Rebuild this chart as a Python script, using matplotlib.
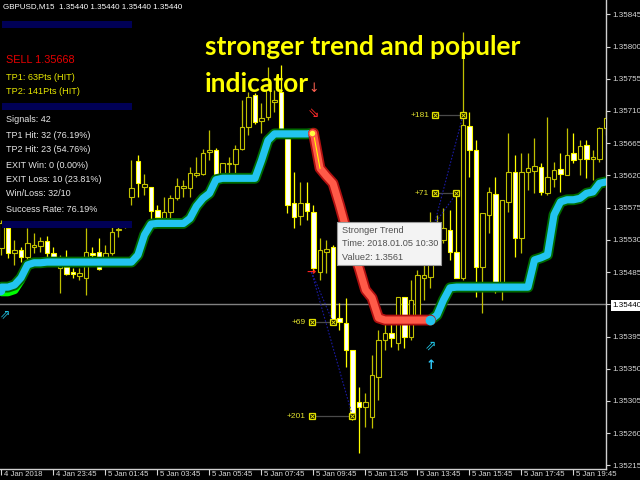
import numpy as np
import matplotlib.pyplot as plt
import matplotlib.transforms as mtrans
from matplotlib.patches import Rectangle

# GBPUSD M15, prices in points (1e-5), bar 0 = 4 Jan 21:45
bar_open = [135519, 135546, 135512, 135516, 135506, 135520, 135521, 135528, 135512, 135491,
            135492, 135485, 135479, 135477, 135512, 135513, 135505, 135512, 135544, 135549,
            135590, 135640, 135604, 135604, 135572, 135560, 135569, 135588, 135602, 135602,
            135621, 135622, 135653, 135655, 135621, 135636, 135636, 135657, 135688, 135732,
            135696, 135702, 135722, 135736, 135672, 135581, 135563, 135581, 135569, 135485,
            135513, 135520, 135421, 135414, 135376, 135303, 135296, 135282, 135338, 135390,
            135400, 135386, 135450, 135394, 135425, 135477, 135478, 135516, 135530, 135544,
            135513, 135477, 135689, 135655, 135492, 135565, 135594, 135470, 135583, 135625,
            135532, 135625, 135626, 135632, 135595, 135615, 135629, 135621, 135651, 135643,
            135662, 135643, 135643, 135686]
bar_high = [135558, 135549, 135530, 135520, 135546, 135539, 135534, 135535, 135520, 135509,
            135516, 135491, 135491, 135546, 135520, 135532, 135523, 135548, 135548, 135556,
            135641, 135648, 135622, 135604, 135579, 135590, 135593, 135616, 135614, 135632,
            135646, 135657, 135683, 135658, 135637, 135646, 135662, 135725, 135736, 135735,
            135721, 135771, 135739, 135774, 135672, 135625, 135611, 135611, 135579, 135532,
            135530, 135523, 135442, 135449, 135376, 135324, 135316, 135369, 135404, 135414,
            135418, 135450, 135450, 135474, 135488, 135495, 135569, 135565, 135574, 135572,
            135595, 135820, 135709, 135669, 135567, 135604, 135618, 135586, 135679, 135648,
            135651, 135651, 135672, 135637, 135702, 135639, 135651, 135686, 135679, 135669,
            135669, 135655, 135688, 135711]
bar_low = [135509, 135505, 135495, 135499, 135498, 135512, 135513, 135502, 135505, 135456,
           135481, 135477, 135474, 135453, 135498, 135488, 135502, 135509, 135534, 135546,
           135579, 135590, 135593, 135558, 135558, 135558, 135560, 135586, 135590, 135590,
           135618, 135621, 135641, 135614, 135616, 135621, 135623, 135655, 135676, 135692,
           135679, 135697, 135709, 135678, 135567, 135546, 135551, 135558, 135485, 135474,
           135484, 135415, 135404, 135352, 135278, 135232, 135268, 135267, 135306, 135376,
           135380, 135376, 135379, 135390, 135421, 135446, 135463, 135502, 135526, 135502,
           135477, 135474, 135618, 135450, 135428, 135539, 135456, 135446, 135569, 135506,
           135512, 135600, 135595, 135593, 135593, 135604, 135597, 135621, 135637, 135621,
           135616, 135614, 135639, 135676]
bar_close = [135553, 135512, 135516, 135506, 135526, 135523, 135528, 135512, 135506, 135499,
             135482, 135482, 135484, 135513, 135509, 135489, 135512, 135541, 135545, 135555,
             135602, 135609, 135608, 135570, 135562, 135569, 135588, 135605, 135605, 135623,
             135623, 135651, 135655, 135616, 135637, 135637, 135657, 135688, 135729, 135695,
             135700, 135739, 135725, 135683, 135579, 135562, 135581, 135570, 135491, 135516,
             135517, 135418, 135415, 135376, 135282, 135296, 135303, 135341, 135390, 135400,
             135393, 135450, 135394, 135446, 135481, 135481, 135546, 135541, 135546, 135513,
             135477, 135690, 135655, 135492, 135567, 135597, 135470, 135586, 135625, 135532,
             135625, 135630, 135633, 135597, 135618, 135628, 135622, 135648, 135641, 135661,
             135643, 135646, 135686, 135700]

# Stronger Trend indicator, one value per bar
trend = [135464, 135464, 135467, 135477, 135495, 135498, 135498, 135499, 135499, 135499,
         135499, 135499, 135499, 135499, 135499, 135499, 135499, 135499, 135499, 135499,
         135499, 135509, 135537, 135552, 135553, 135553, 135553, 135553, 135553, 135560,
         135577, 135588, 135595, 135614, 135616, 135616, 135616, 135616, 135616, 135616,
         135641, 135669, 135678, 135678, 135678, 135678, 135678, 135678, 135679, 135630,
         135619, 135609, 135579, 135546, 135516, 135491, 135460, 135449, 135421, 135418,
         135418, 135418, 135418, 135418, 135418, 135418, 135418, 135425, 135446, 135463,
         135464, 135464, 135464, 135464, 135464, 135464, 135464, 135464, 135464, 135464,
         135464, 135464, 135502, 135505, 135509, 135565, 135583, 135586, 135586, 135588,
         135595, 135597, 135609, 135611]
green_tail = [135457, 135457, 135460, 135474]
red_start, red_end = 48, 66

# closed trades: entry bar, entry price, exit bar, exit price, label
trades = [(47.7, 135485, 51, 135415, '+69'),
          (47.7, 135485, 54, 135284, '+201'),
          (66.6, 135552, 70, 135595, '+71'),
          (66.6, 135552, 71, 135704, '+181')]

tick_bars = [0, 8, 16, 24, 32, 40, 48, 56, 64, 72, 80, 88]
tick_text = ['4 Jan 2018', '4 Jan 23:45', '5 Jan 01:45', '5 Jan 03:45', '5 Jan 05:45',
             '5 Jan 07:45', '5 Jan 09:45', '5 Jan 11:45', '5 Jan 13:45', '5 Jan 15:45',
             '5 Jan 17:45', '5 Jan 19:45']
price_ticks = [135845, 135800, 135755, 135710, 135665, 135620, 135575, 135530,
               135485, 135440, 135395, 135350, 135305, 135260, 135215]
last_price = 135440

stats = ['Signals: 42', 'TP1 Hit: 32 (76.19%)', 'TP2 Hit: 23 (54.76%)',
         'EXIT Win: 0 (0.00%)', 'EXIT Loss: 10 (23.81%)', 'Win/Loss: 32/10',
         'Success Rate: 76.19%']
stats_y = [120, 135, 150, 165, 180, 194, 209]

o = np.array(bar_open) / 1e5
h = np.array(bar_high) / 1e5
l = np.array(bar_low) / 1e5
c = np.array(bar_close) / 1e5
tr = np.array(trend) / 1e5
x = np.arange(len(o))

plt.rcParams['font.family'] = ['Liberation Sans', 'DejaVu Sans']

fig = plt.figure(figsize=(6.4, 4.8), dpi=100, facecolor='black')
ax = fig.add_axes([0, 11 / 480, 606 / 640, 469 / 480])
ax.set_facecolor('black')


def px(xp, yp):
    return xp / 640, 1 - yp / 480


# candles
bull = c >= o
wick_col = np.where(bull, '#c0c000', '#ffff00')
ax.vlines(x, l, h, colors=wick_col, lw=0.9, zorder=2)
body_lo = np.minimum(o, c)
body_h = np.maximum(np.abs(c - o), 0.000015)
ax.bar(x[bull], body_h[bull], bottom=body_lo[bull], width=0.62,
       facecolor='black', edgecolor='#c0c000', lw=0.8, zorder=3)
ax.bar(x[~bull], body_h[~bull], bottom=body_lo[~bull], width=0.62,
       facecolor='white', edgecolor='#ffff00', lw=0.8, zorder=3)

ax.axhline(last_price / 1e5, color='#808080', lw=1, zorder=1)

# trade lines
for eb, ep, xb, xp_, lab in trades:
    ax.plot([eb, xb], [ep / 1e5, xp_ / 1e5], ls=(0, (1.5, 1.5)), color='#1a1aa0', lw=0.8, zorder=4)
    sq = round(eb) - 0.3
    ax.plot([sq, xb], [xp_ / 1e5, xp_ / 1e5], color='#4a4a4a', lw=0.9, zorder=4)
    ax.plot([sq, xb], [xp_ / 1e5, xp_ / 1e5], 's', ms=4.5, mfc='black', mec='#e0e000', mew=0.9, zorder=5)
    ax.plot([sq, xb], [xp_ / 1e5, xp_ / 1e5], 'x', ms=2.2, color='#e0e000', mew=0.7, zorder=5)
    ax.text(sq - 0.9, xp_ / 1e5, lab, color='#e0e030', fontsize=6, ha='right', va='center', zorder=5)

# trend line
up1 = slice(0, red_start + 1)
dn = slice(red_start, red_end + 1)
up2 = slice(red_end, len(tr))
ax.plot(x[:4], np.array(green_tail) / 1e5, color='#00ff00', lw=6, solid_capstyle='round', zorder=5)
for seg in (up1, up2):
    ax.plot(x[seg], tr[seg], color='#006a00', lw=7.8, solid_joinstyle='round', solid_capstyle='round', zorder=5)
    ax.plot(x[seg], tr[seg], color='#22c4f0', lw=5.2, solid_joinstyle='round', solid_capstyle='round', zorder=6)
ax.plot(x[dn], tr[dn], color='#b01010', lw=7.8, solid_joinstyle='round', solid_capstyle='round', zorder=6)
ax.plot(x[dn], tr[dn], color='#ff5a48', lw=5.2, solid_joinstyle='round', solid_capstyle='round', zorder=7)
ax.plot(x[red_start:red_start + 2], tr[red_start:red_start + 2], color='#ffff00', lw=0.8, zorder=7)
ax.plot(red_start - 0.2, tr[red_start], 'o', ms=5, mfc='#ffff40', mec='#ff5a48', zorder=8)
ax.plot(red_end, tr[red_end], 'o', ms=6, color='#22c4f0', zorder=8)
ax.plot(-0.2, 135460 / 1e5, 'o', ms=6, color='#22c4f0', zorder=8)

# signal arrows
ax.text(48, 135742 / 1e5, '↓', color='#ff6050', fontsize=9, ha='center', va='center',
        family='DejaVu Sans', zorder=8)
ax.text(48, 135707 / 1e5, '⇘', color='#ff2a2a', fontsize=10, ha='center', va='center',
        family='DejaVu Sans', zorder=8)
ax.text(47.6, 135485 / 1e5, '→', color='#ff2020', fontsize=8, weight='bold', ha='center', va='center',
        family='DejaVu Sans', zorder=8)
ax.text(66, 135383 / 1e5, '⇗', color='#20c0e0', fontsize=10, ha='center', va='center',
        family='DejaVu Sans', zorder=8)
ax.text(66, 135354 / 1e5, '↑', color='#30c8f8', fontsize=9, weight='bold', ha='center', va='center',
        family='DejaVu Sans', zorder=8)
ax.text(0.6, 135425 / 1e5, '⇗', color='#20c0e0', fontsize=9, ha='center', va='center',
        family='DejaVu Sans', zorder=8)

# axes
ax.set_xlim(-0.23, 93.0)
ax.set_ylim(1.35210, 1.35865)
for s in ('left', 'top'):
    ax.spines[s].set_visible(False)
for s in ('right', 'bottom'):
    ax.spines[s].set_color('#d0d0d0')
    ax.spines[s].set_linewidth(1)
ax.yaxis.tick_right()
ax.set_yticks(np.array(price_ticks) / 1e5)
ax.set_yticklabels(['%.5f' % (p / 1e5) for p in price_ticks])
ax.set_xticks(tick_bars)
ax.set_xticklabels(tick_text)
ax.tick_params(colors='#d8d8d8', labelsize=5.8, length=3, width=0.8, pad=1.5)
ax.tick_params(axis='x', length=4, pad=-2.5, labelsize=5.6)
shift = mtrans.ScaledTranslation(2.5 / 100, 0, fig.dpi_scale_trans)
for lab in ax.get_xticklabels():
    lab.set_ha('left')
    lab.set_transform(lab.get_transform() + shift)
for lab in ax.get_yticklabels():
    if lab.get_text() == '%.5f' % (last_price / 1e5):
        lab.set_color('black')
        lab.set_bbox(dict(facecolor='white', edgecolor='none', pad=1.2))

# overlay panel
fig.text(*px(3, 7), 'GBPUSD,M15  1.35440 1.35440 1.35440 1.35440', color='white',
         fontsize=5.8, va='center')
for yb in (21, 103, 221):
    fig.add_artist(Rectangle(px(2, yb + 7), 130 / 640, 7 / 480, transform=fig.transFigure,
                             facecolor='#000055', edgecolor='none', zorder=5))
fig.text(*px(6, 60), 'SELL 1.35668', color='#e80000', fontsize=7.8, va='center', zorder=6)
fig.text(*px(6, 77), 'TP1: 63Pts (HIT)', color='#e8e800', fontsize=6.6, va='center', zorder=6)
fig.text(*px(6, 91), 'TP2: 141Pts (HIT)', color='#e8e800', fontsize=6.6, va='center', zorder=6)
for s, yy in zip(stats, stats_y):
    fig.text(*px(6, yy), s, color='#e8e8e8', fontsize=6.5, va='center', zorder=6)

fig.text(*px(205, 47), 'stronger trend and populer', color='#ffff00', fontsize=19,
         family='Lato', weight='bold', va='center', zorder=6)
fig.text(*px(205, 84), 'indicator', color='#ffff00', fontsize=19,
         family='Lato', weight='bold', va='center', zorder=6)

# tooltip
fig.add_artist(Rectangle(px(337, 265), 104 / 640, 43 / 480, transform=fig.transFigure,
                         facecolor='#f3f3f3', edgecolor='#9a9a9a', lw=0.8, zorder=10))
for txt, yy in zip(['Stronger Trend', 'Time: 2018.01.05 10:30', 'Value2: 1.3561'], [231, 244, 257]):
    fig.text(*px(342, yy), txt, color='#505050', fontsize=6.6, va='center', zorder=11)

fig.savefig('out.png', dpi=100, facecolor='black')
